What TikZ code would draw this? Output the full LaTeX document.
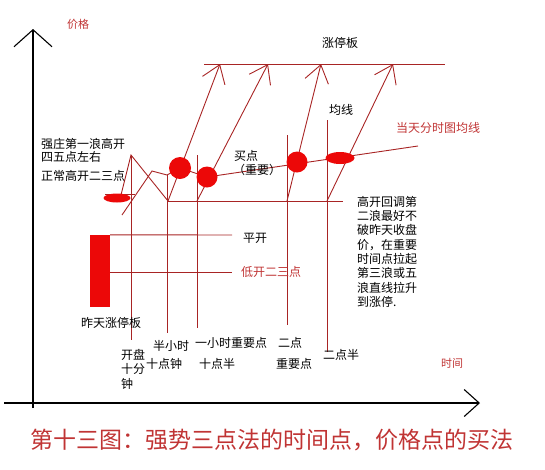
\documentclass[tikz,border=0pt]{standalone}
\usepackage{fontspec}
\setmainfont{Noto Sans CJK SC}
\usetikzlibrary{arrows.meta, shapes.geometric}
\definecolor{linered}{RGB}{168,36,36}
\definecolor{ballred}{RGB}{236,8,8}
\definecolor{textred}{RGB}{192,52,52}

\begin{document}
\begin{tikzpicture}[x=1pt, y=-1pt,
  axis/.style={black, line width=1.1pt},
  line/.style={linered, line width=0.9pt},
  rise/.style={line, -{Straight Barb[length=17pt, width=24pt]}},
  ball/.style={circle, fill=ballred, inner sep=0pt},
  blob/.style={ellipse, fill=ballred, inner sep=0pt},
  lbl/.style={inner sep=0pt, font=\fontsize{12}{14.3}\selectfont}]
  \useasboundingbox (0,0) rectangle (545,469);

  % axes
  \coordinate (ytop) at (33,29);
  \coordinate (ybot) at (33,408);
  \coordinate (xleft) at (4,403);
  \coordinate (xright) at (480,403);
  \draw[axis, -{Straight Barb[length=17pt, width=38pt]}] (ybot) -- (ytop);
  \draw[axis, -{Straight Barb[length=15pt, width=27pt]}] (xleft) -- (xright);
  \node[lbl, text=textred, font=\fontsize{11}{13}\selectfont] (price) at (78,24) {价格};
  \node[lbl, text=textred, font=\fontsize{11}{13}\selectfont] (time) at (452,363) {时间};

  % limit-up line
  \coordinate (limL) at (204,64);
  \coordinate (limR) at (445,64);
  \draw[line] (limL) -- (limR);
  \node[lbl] (limit) at (340,43) {涨停板};

  % time lines
  \coordinate (t1) at (131,155); \coordinate (e1) at (131,340);
  \coordinate (t2) at (167,175); \coordinate (e2) at (167,333);
  \coordinate (t3) at (197,155); \coordinate (e3) at (197,328);
  \coordinate (t4) at (287,135); \coordinate (e4) at (287,325);
  \coordinate (t5) at (327,120); \coordinate (e5) at (327,352);
  \draw[line] (t1) -- (e1);
  \draw[line] (t2) -- (e2);
  \draw[line] (t3) -- (e3);
  \draw[line] (t4) -- (e4);
  \draw[line] (t5) -- (e5);

  % base line and the rises
  \coordinate (s1) at (168,201);
  \coordinate (s2) at (197,201);
  \coordinate (s3) at (287,201);
  \coordinate (s4) at (327,201);
  \coordinate (baseR) at (343,201);
  \draw[line] (s1) -- (baseR);
  \coordinate (l1) at (220,64);
  \coordinate (l2) at (268,64);
  \coordinate (l3) at (321,64);
  \coordinate (l4) at (393,64);
  \draw[rise] (s1) -- (l1);
  \draw[rise] (s2) -- (l2);
  \draw[rise] (s3) -- (l3);
  \draw[rise] (s4) -- (l4);

  % opening waves
  \coordinate (openL) at (105,194);
  \coordinate (openR) at (135,194);
  \draw[line] (openL) -- (openR);
  \coordinate (go) at (121,195);
  \coordinate (peak) at (131,155);
  \draw[line] (go) -- (peak) -- (s1);
  \coordinate (low) at (122,215);
  \coordinate (w1) at (152,171);
  \coordinate (w2) at (167,175);
  \coordinate (avgR) at (418,146);
  \draw[line] (low) -- (w1) -- (w2) -- (180,168) -- (207,177) -- (avgR);

  % yesterday's bar
  \node[fill=ballred, minimum width=20pt, minimum height=72pt, inner sep=0pt] (bar) at (100,271) {};
  \coordinate (flatR) at (232,235);
  \coordinate (downR) at (232,272);
  \draw[line] (bar.north east) -- (flatR);
  \draw[line] (bar.east |- downR) -- (downR);

  % buy points
  \node[blob, minimum width=27pt, minimum height=9pt] (open) at (117,198) {};
  \node[ball, minimum size=22pt] (buy1) at (180,168) {};
  \node[ball, minimum size=21pt] (buy2) at (207,177) {};
  \node[ball, minimum size=21pt] (buy3) at (297,162) {};
  \node[blob, minimum width=29pt, minimum height=12pt] (buy4) at (340,158) {};

  % labels
  \node[lbl, anchor=west] (strong) at (41,144) {强庄第一浪高开};
  \node[lbl, anchor=west] (strong2) at (41,157) {四五点左右};
  \node[lbl, anchor=west] (normal) at (41,176) {正常高开二三点};
  \node[lbl] (buy) at (246,156) {买点};
  \node[lbl] (key) at (257,170) {（重要）};
  \node[lbl] (avg) at (341,110) {均线};
  \node[lbl, text=textred] (avgline) at (438,128) {当天分时图均线};
  \node[lbl, anchor=west] (flat) at (243,238) {平开};
  \node[lbl, text=textred, anchor=west] (down) at (241,272) {低开二三点};
  \node[lbl] (yest) at (111,323) {昨天涨停板};
  \node[lbl, align=left, anchor=north west] (ten) at (121,349) {开盘\\十分\\钟};
  \node[lbl] (half) at (171,346) {半小时};
  \node[lbl] (tenoc) at (164,364) {十点钟};
  \node[lbl] (hour) at (231,343) {一小时重要点};
  \node[lbl] (tenhalf) at (217,364) {十点半};
  \node[lbl] (two) at (290,343) {二点};
  \node[lbl] (twokey) at (294,364) {重要点};
  \node[lbl] (twohalf) at (341,355) {二点半};
  \node[lbl, align=left, anchor=north west] (note) at (357,196)
    {高开回调第\\二浪最好不\\破昨天收盘\\价，在重要\\时间点拉起\\第三浪或五\\浪直线拉升\\到涨停.};
  \node[inner sep=0pt, text=textred, font=\fontsize{23}{26}\selectfont] (caption) at (272,440)
    {第十三图：强势三点法的时间点，价格点的买法};
\end{tikzpicture}
\end{document}
